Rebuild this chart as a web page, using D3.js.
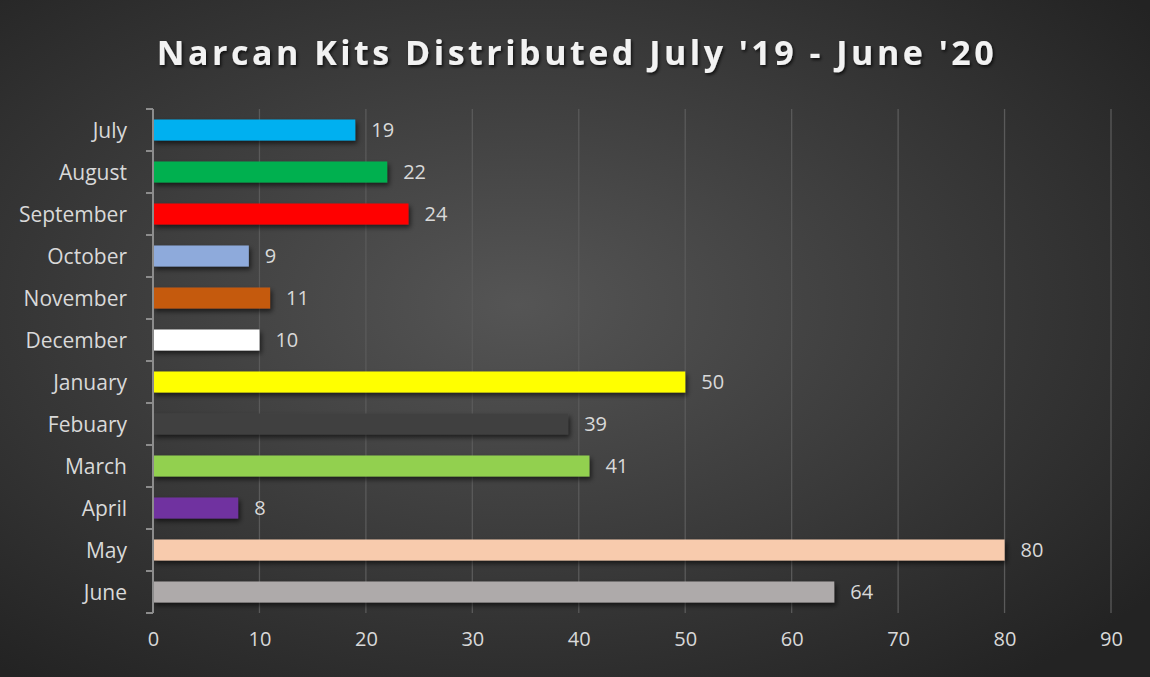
<!DOCTYPE html>
<html>
<head>
<meta charset="utf-8">
<script src="https://cdn.jsdelivr.net/npm/d3@7"></script>
<style>
  body { margin: 0; background: #2b2b2b; }
  svg { display: block; }
  text { font-family: "Open Sans", "Noto Sans", sans-serif; }
</style>
</head>
<body>
<div id="chart"></div>
<script>
// data
var months = ["July", "August", "September", "October", "November", "December",
  "January", "Febuary", "March", "April", "May", "June"];
var kits = [19, 22, 24, 9, 11, 10, 50, 39, 41, 8, 80, 64];
var barColors = ["#00b0f0", "#00b050", "#ff0000", "#8eaadb", "#c55a11", "#ffffff",
  "#ffff00", "#404040", "#92d050", "#7030a0", "#f8cbad", "#aeaaaa"];
var xTicks = [0, 10, 20, 30, 40, 50, 60, 70, 80, 90];

var Width = 1150;
var Height = 677;

var svg = d3.select("#chart")
  .append("svg")
  .attr("width", Width)
  .attr("height", Height);

var defs = svg.append("defs");

// background gradient, lighter in the middle
var bg = defs.append("radialGradient")
  .attr("id", "bg")
  .attr("cx", "45%").attr("cy", "45%").attr("r", "70%");
bg.append("stop").attr("offset", "0%").attr("stop-color", "#555555");
bg.append("stop").attr("offset", "100%").attr("stop-color", "#232323");

// shadow for bars
var sh = defs.append("filter").attr("id", "shadow")
  .attr("x", "-10%").attr("y", "-30%").attr("width", "130%").attr("height", "200%");
sh.append("feDropShadow")
  .attr("dx", 2).attr("dy", 3).attr("stdDeviation", 2.5)
  .attr("flood-color", "#000").attr("flood-opacity", 0.6);

var tsh = defs.append("filter").attr("id", "tshadow");
tsh.append("feDropShadow")
  .attr("dx", 1.5).attr("dy", 2).attr("stdDeviation", 1.5)
  .attr("flood-color", "#000").attr("flood-opacity", 0.7);

svg.append("rect")
  .attr("width", Width).attr("height", Height)
  .attr("fill", "url(#bg)");

// title
svg.append("text")
  .attr("x", 577)
  .attr("y", 65)
  .attr("text-anchor", "middle")
  .attr("font-size", 34)
  .attr("font-weight", "bold")
  .attr("letter-spacing", 3.5)
  .attr("fill", "#f2f2f2")
  .attr("filter", "url(#tshadow)")
  .text("Narcan Kits Distributed July '19 - June '20");

// plot area
var plotLeft = 153, plotRight = 1111, plotTop = 109, plotBottom = 613;

var x = d3.scaleLinear()
  .domain([0, 90])
  .range([plotLeft, plotRight]);

var y = d3.scaleBand()
  .domain(months)
  .range([plotTop, plotBottom])
  .paddingInner(0.5)
  .paddingOuter(0.25);

// gridlines
svg.append("g")
  .selectAll("line")
  .data(xTicks.slice(1))
  .enter()
  .append("line")
  .attr("x1", function(d) { return x(d); })
  .attr("x2", function(d) { return x(d); })
  .attr("y1", plotTop)
  .attr("y2", plotBottom)
  .attr("stroke", "#5a5a5a")
  .attr("stroke-width", 1.3);

// bars
svg.append("g")
  .selectAll("rect")
  .data(kits)
  .enter()
  .append("rect")
  .attr("x", x(0))
  .attr("y", function(d, i) { return y(months[i]); })
  .attr("width", function(d) { return x(d) - x(0); })
  .attr("height", y.bandwidth())
  .attr("fill", function(d, i) { return barColors[i]; })
  .attr("filter", "url(#shadow)");

// value labels
svg.append("g")
  .selectAll("text")
  .data(kits)
  .enter()
  .append("text")
  .attr("x", function(d) { return x(d) + 16; })
  .attr("y", function(d, i) { return y(months[i]) + y.bandwidth() / 2; })
  .attr("dy", "0.36em")
  .attr("font-size", 20)
  .attr("fill", "#d9d9d9")
  .text(function(d) { return d; });

// y axis with the band ticks
var yAxisG = svg.append("g")
  .attr("transform", "translate(" + plotLeft + ",0)");
var bandStep = (plotBottom - plotTop) / months.length;
var edges = d3.range(months.length + 1).map(function(i) { return plotTop + i * bandStep; });
yAxisG.append("line")
  .attr("x1", 0).attr("x2", 0)
  .attr("y1", plotTop).attr("y2", plotBottom)
  .attr("stroke", "#8c8c8c").attr("stroke-width", 2);
yAxisG.selectAll(".tk")
  .data(edges)
  .enter()
  .append("line")
  .attr("x1", -7).attr("x2", 0)
  .attr("y1", function(d) { return d; })
  .attr("y2", function(d) { return d; })
  .attr("stroke", "#8c8c8c").attr("stroke-width", 2);
yAxisG.selectAll(".lab")
  .data(months)
  .enter()
  .append("text")
  .attr("x", -26)
  .attr("y", function(d) { return y(d) + y.bandwidth() / 2; })
  .attr("dy", "0.36em")
  .attr("text-anchor", "end")
  .attr("font-size", 21)
  .attr("fill", "#d9d9d9")
  .text(function(d) { return d; });

// x axis labels
var xAxis = d3.axisBottom(x).tickValues(xTicks).tickSize(0).tickPadding(0);
var xg = svg.append("g")
  .attr("transform", "translate(0," + (plotBottom + 19) + ")")
  .call(xAxis);
xg.select(".domain").remove();
xg.selectAll("text")
  .attr("font-size", 20)
  .attr("fill", "#d9d9d9")
  .attr("dy", "0.71em")
  .style("font-family", "'Open Sans', sans-serif");
</script>
</body>
</html>
